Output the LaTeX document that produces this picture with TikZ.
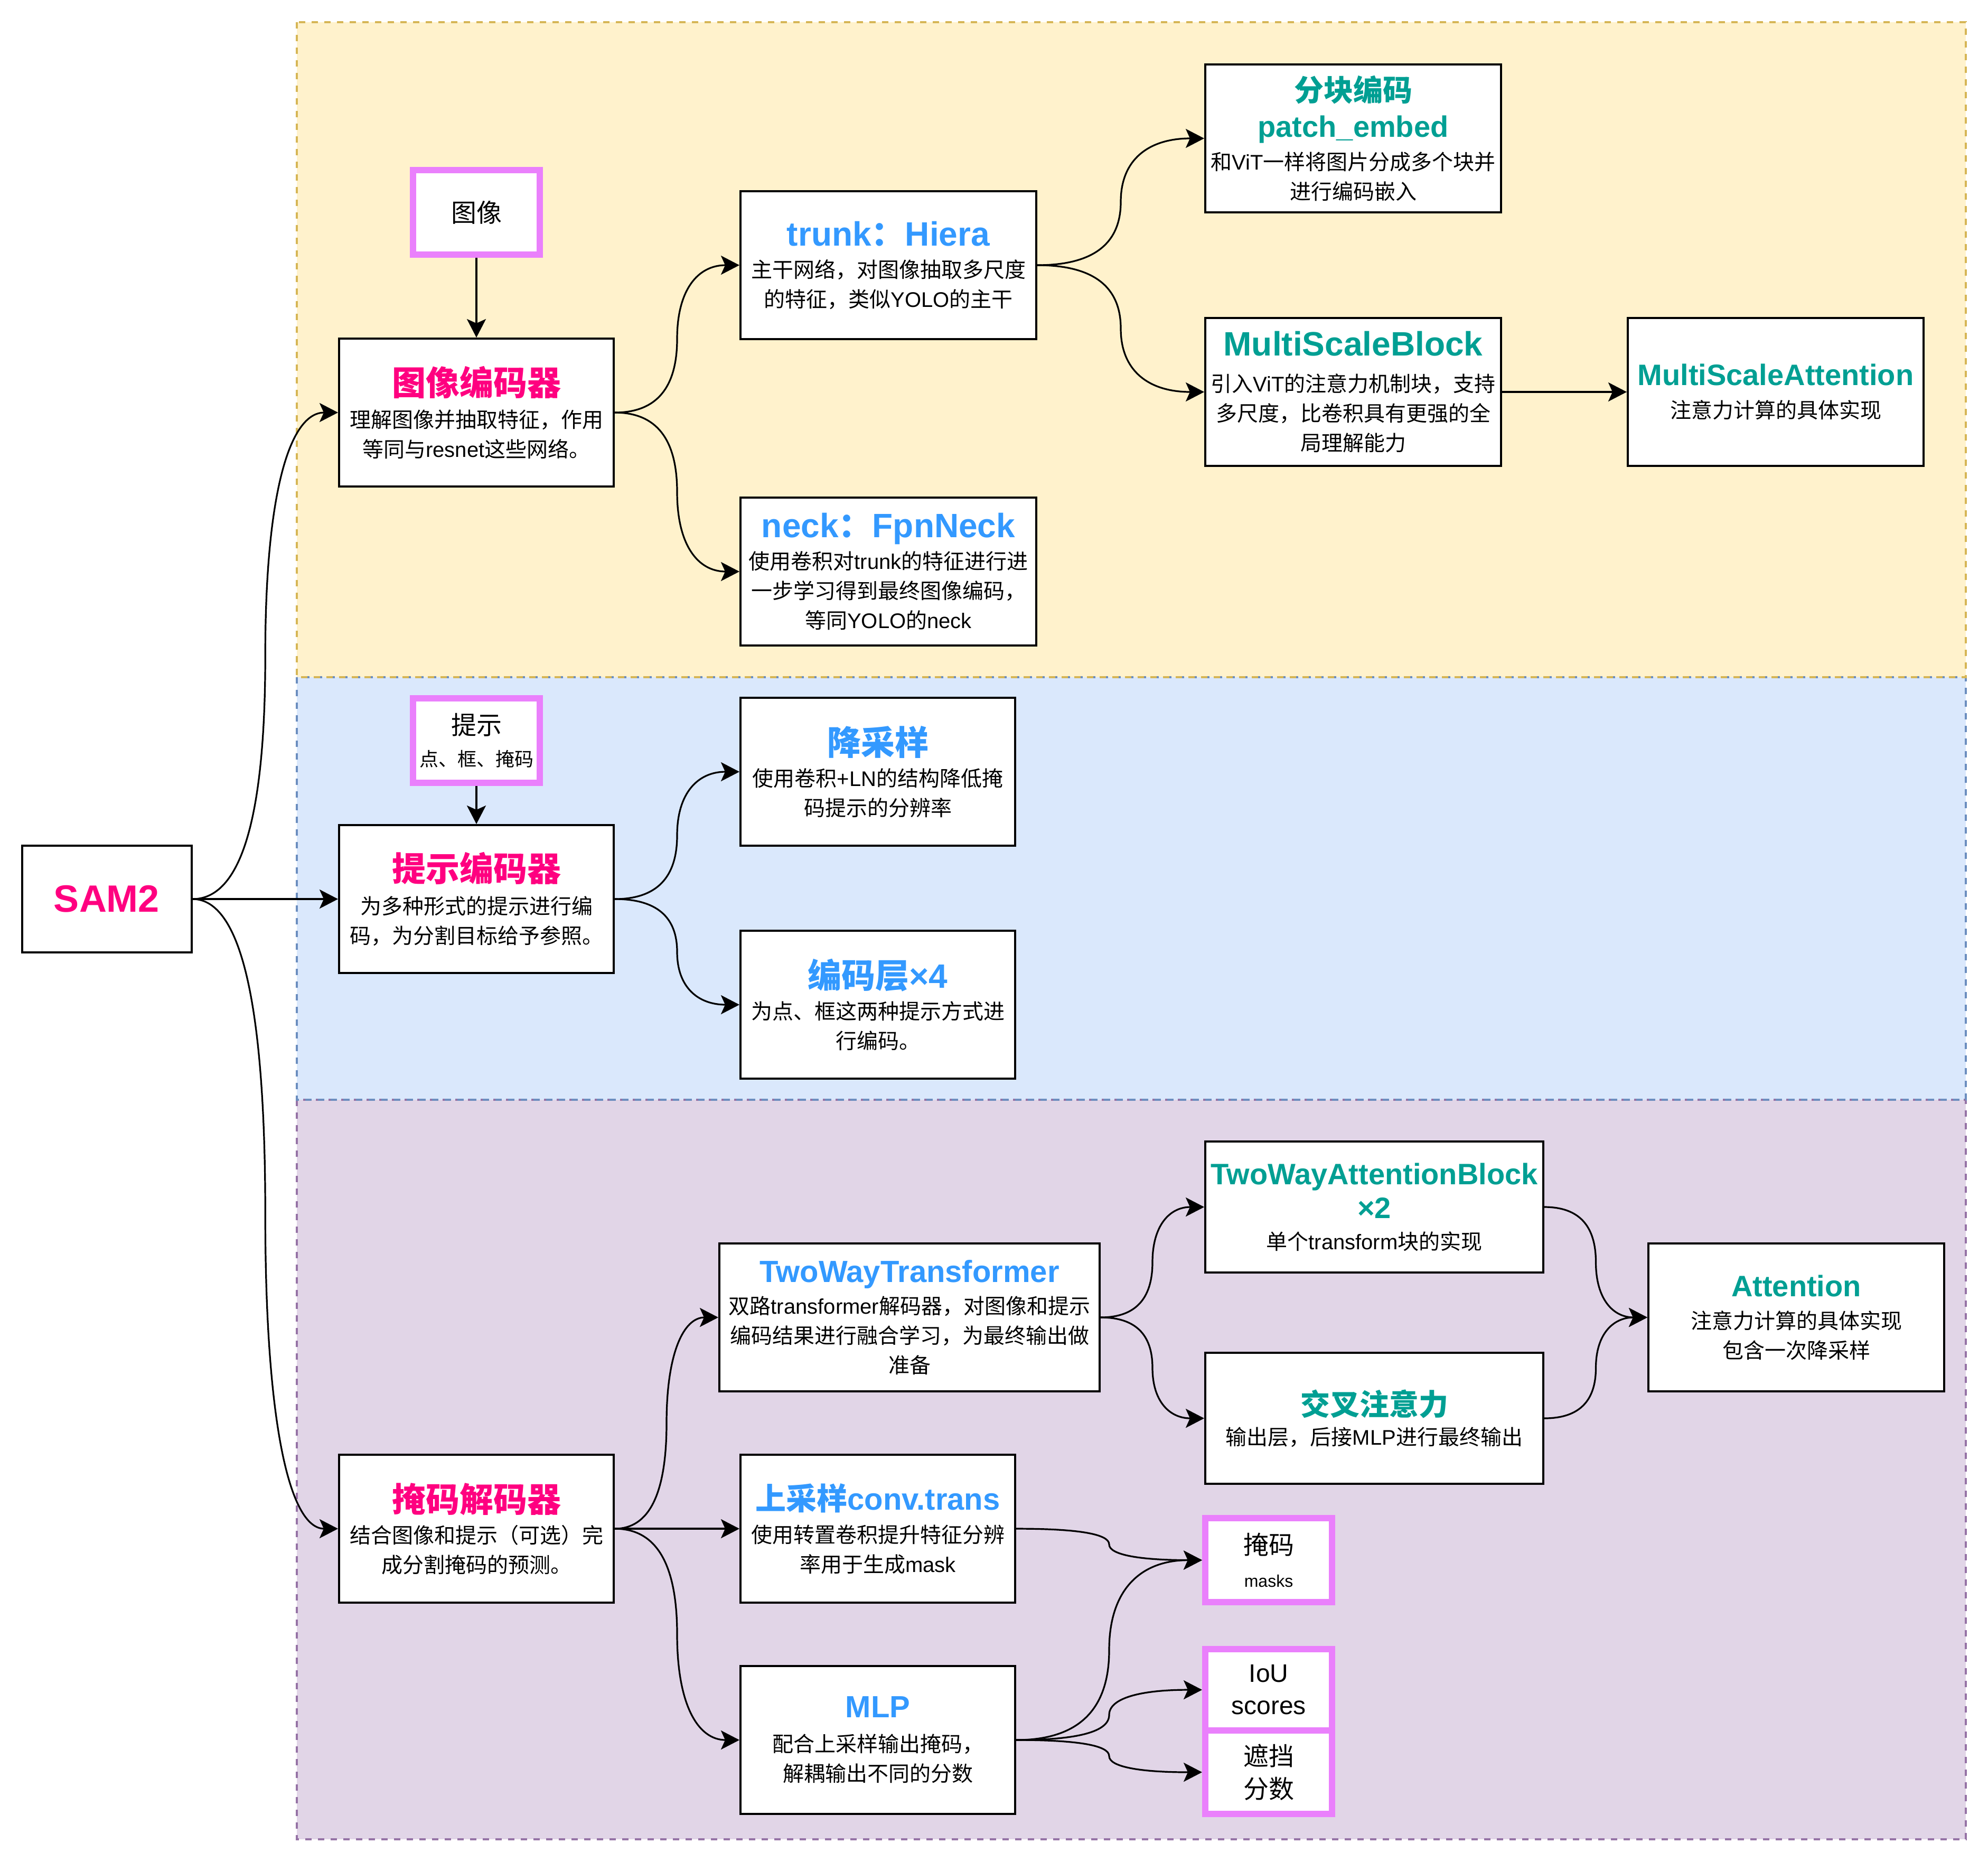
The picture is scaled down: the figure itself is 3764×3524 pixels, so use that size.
\documentclass[tikz,border=0pt]{standalone}
\usepackage{fontspec}
\setmainfont{Noto Sans CJK SC}
\newfontfamily\en{Liberation Sans}
\usetikzlibrary{arrows.meta,calc}
\definecolor{cmag}{HTML}{FF0080}
\definecolor{cblue}{HTML}{3399FF}
\definecolor{cteal}{HTML}{009F93}
\definecolor{cpink}{HTML}{EA80FC}
\definecolor{yfill}{HTML}{FFF2CC}
\definecolor{ydraw}{HTML}{D6B656}
\definecolor{bfill}{HTML}{DAE8FC}
\definecolor{bdraw}{HTML}{6C8EBF}
\definecolor{pfill}{HTML}{E1D5E7}
\definecolor{pdraw}{HTML}{9673A6}
\newcommand\TA{\fontsize{16}{19}\selectfont\bfseries}
\newcommand\TB{\fontsize{14}{17}\selectfont\bfseries}
\newcommand\TC{\fontsize{14.5}{17}\selectfont\bfseries}
\begin{document}
\begin{tikzpicture}[x=0.25pt,y=-0.25pt,
  region/.style={line width=1pt, dash pattern=on 3pt off 3pt},
  box/.style={draw, line width=1pt, fill=white, align=center, inner sep=0pt,
    minimum width=130pt, minimum height=70pt, font=\fontsize{10}{14}\selectfont},
  pbox/.style={draw=cpink, line width=3pt, fill=white, align=center, inner sep=0pt,
    minimum width=60pt, minimum height=40pt, font=\fontsize{12}{15}\selectfont},
  arr/.style={line width=0.8pt, -{Stealth[length=8.75pt,width=9pt,inset=2pt]}},
  curve/.style={to path={let \p1=(\tikztostart), \p2=(\tikztotarget) in
    .. controls ({\x1+(\x2-\x1)/3},\y1) and ({(\x1+\x2)/2},{\y1+(\y2-\y1)/6}) .. ({(\x1+\x2)/2},{(\y1+\y2)/2})
    .. controls ({(\x1+\x2)/2},{\y2-(\y2-\y1)/6}) and ({\x2-(\x2-\x1)/3},\y2) .. (\tikztotarget)}}
]
\useasboundingbox (0,0) rectangle (3764,3524);
% regions
\fill[yfill] (562,42) rectangle (3722,1282);
\fill[bfill] (562,1282) rectangle (3722,2082);
\fill[pfill] (562,2082) rectangle (3722,3482);
\draw[region, draw=pdraw] (562,2082) rectangle (3722,3482);
\draw[region, draw=bdraw] (562,1282) rectangle (3722,2082);
\draw[region, draw=ydraw] (562,42) rectangle (3722,1282);

% nodes
\node[box, minimum width=80.25pt, minimum height=50.5pt] (sam) at (202,1702)
  {\fontsize{18}{18}\selectfont\bfseries\en\color{cmag}SAM2};

\node[pbox] (img) at (902,402) {图像};
\node[box] (ienc) at (902,781)
  {{\TA\color{cmag}图像编码器}\\[1.2pt]理解图像并抽取特征，作用\\等同与{\en resnet}这些网络。};
\node[box, minimum width=140pt] (trunk) at (1682,502)
  {{\TA\color{cblue}\en trunk{\rmfamily ：}Hiera}\\[1pt]主干网络，对图像抽取多尺度\\的特征，类似{\en YOLO}的主干};
\node[box, minimum width=140pt] (neck) at (1682,1082)
  {{\TA\color{cblue}\en neck{\rmfamily ：}FpnNeck}\\[1pt]使用卷积对{\en trunk}的特征进行进\\一步学习得到最终图像编码，\\等同{\en YOLO}的{\en neck}};
\node[box, minimum width=140pt] (patch) at (2562,262)
  {{\TB\color{cteal}分块编码}\\[3pt]{\TB\color{cteal}\en patch\_embed}\\[1.3pt]和{\en ViT}一样将图片分成多个块并\\进行编码嵌入};
\node[box, minimum width=140pt] (msb) at (2562,742)
  {{\TA\color{cteal}\en MultiScaleBlock}\\[2.8pt]引入{\en ViT}的注意力机制块，支持\\多尺度，比卷积具有更强的全\\局理解能力};
\node[box, minimum width=140pt] (msa) at (3362,742)
  {{\TB\color{cteal}\en MultiScaleAttention}\\[1.4pt]注意力计算的具体实现};

\node[pbox] (prompt) at (902,1402) {提示\\[0pt]{\fontsize{9}{11}\selectfont 点、框、掩码}};
\node[box] (penc) at (902,1702)
  {{\TA\color{cmag}提示编码器}\\[1.5pt]为多种形式的提示进行编\\码，为分割目标给予参照。};
\node[box] (down) at (1662,1461)
  {{\TA\color{cblue}降采样}\\[0.85pt]使用卷积{\en +LN}的结构降低掩\\码提示的分辨率};
\node[box] (enc4) at (1662,1902)
  {{\TA\color{cblue}编码层{\en ×4}}\\[0.85pt]为点、框这两种提示方式进\\行编码。};

\node[box] (mdec) at (902,2894)
  {{\TA\color{cmag}掩码解码器}\\[0.85pt]结合图像和提示（可选）完\\成分割掩码的预测。};
\node[box, minimum width=180pt] (twt) at (1722,2494)
  {{\TC\color{cblue}\en TwoWayTransformer}\\[0.8pt]双路{\en transformer}解码器，对图像和提示\\编码结果进行融合学习，为最终输出做\\准备};
\node[box, minimum width=160pt, minimum height=62pt] (twab) at (2602,2285)
  {{\TB\color{cteal}\en TwoWayAttentionBlock}\\[2pt]{\TB\color{cteal}\en ×2}\\[0.7pt]单个{\en transform}块的实现};
\node[box, minimum width=160pt, minimum height=62pt] (cross) at (2602,2685)
  {{\TB\color{cteal}交叉注意力}\\[0.1pt]输出层，后接{\en MLP}进行最终输出};
\node[box, minimum width=140pt] (attn) at (3401,2494)
  {{\TB\color{cteal}\en Attention}\\[1.3pt]注意力计算的具体实现\\包含一次降采样};
\node[box] (up) at (1662,2894)
  {{\TC\color{cblue}上采样{\en conv.trans}}\\[1.45pt]使用转置卷积提升特征分辨\\率用于生成{\en mask}};
\node[box] (mlp) at (1662,3294)
  {{\TC\color{cblue}\en MLP}\\[2.2pt]配合上采样输出掩码，\\解耦输出不同的分数};

\node[pbox, minimum height=39.75pt] (masks) at (2402,2953.5)
  {掩码\\[0.5pt]{\fontsize{8}{10}\selectfont\en masks}};
\node[pbox, minimum height=38.5pt, font=\fontsize{12}{15}\selectfont\en] (iou) at (2402,3199)
  {IoU\\[0.25pt]scores};
\node[pbox, minimum height=39.5pt] (occ) at (2402,3355)
  {遮挡\\[0.5pt]分数};

% connectors
\draw[arr] (img.south) -- (ienc.north);
\draw[arr] (prompt.south) -- (penc.north);
\draw[arr] (sam.east) to[curve] (ienc.west);
\draw[arr] (sam.east) -- (penc.west);
\draw[arr] (sam.east) to[curve] (mdec.west);
\draw[arr] (ienc.east) to[curve] (trunk.west);
\draw[arr] (ienc.east) to[curve] (neck.west);
\draw[arr] (trunk.east) to[curve] (patch.west);
\draw[arr] (trunk.east) to[curve] (msb.west);
\draw[arr] (msb.east) -- (msa.west);
\draw[arr] (penc.east) to[curve] (down.west);
\draw[arr] (penc.east) to[curve] (enc4.west);
\draw[arr] (mdec.east) to[curve] (twt.west);
\draw[arr] (mdec.east) -- (up.west);
\draw[arr] (mdec.east) to[curve] (mlp.west);
\draw[arr] (twt.east) to[curve] (twab.west);
\draw[arr] (twt.east) to[curve] (cross.west);
\draw[arr] (twab.east) to[curve] (attn.west);
\draw[arr] (cross.east) to[curve] (attn.west);
\draw[arr] (up.east) to[curve] (masks.west);
\draw[arr] (mlp.east) to[curve] (masks.west);
\draw[arr] (mlp.east) to[curve] (iou.west);
\draw[arr] (mlp.east) to[curve] (occ.west);
\end{tikzpicture}
\end{document}
